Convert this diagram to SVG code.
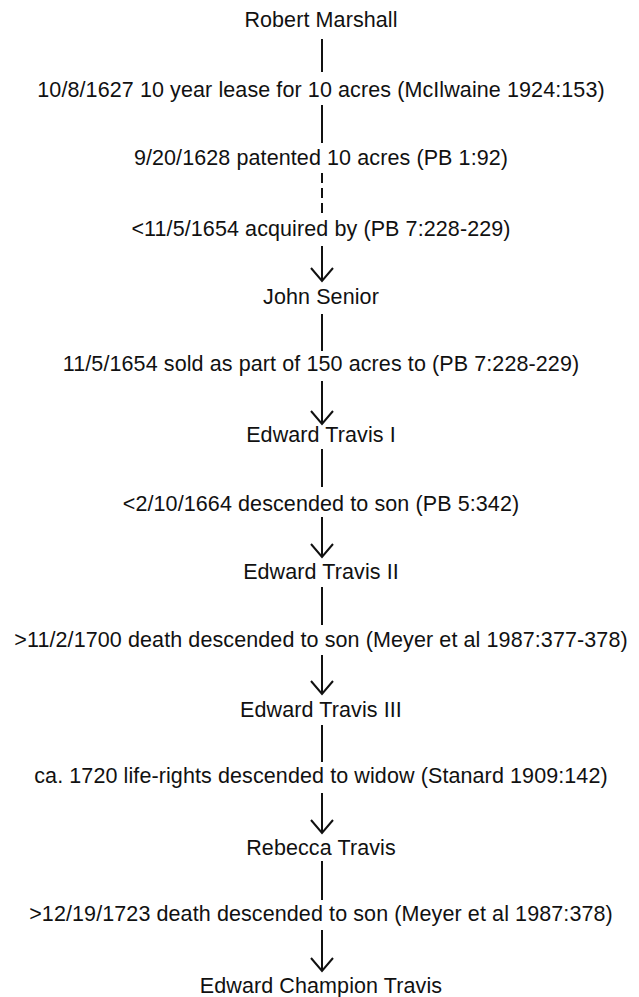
<svg xmlns="http://www.w3.org/2000/svg" width="639" height="997" viewBox="0 0 639 997">
<style>
text{font-family:"Liberation Sans",Arial,sans-serif;font-size:21.5px;letter-spacing:0.1px;fill:#111;text-anchor:middle}
.c{stroke:#111;stroke-width:2;fill:none}
.d{stroke-dasharray:10 5}
.a{stroke:#111;stroke-width:2;fill:none}
</style>
<defs>
<path id="ah" class="a" d="M-11,-13 L0,0 L11,-13"/>
</defs>
<rect width="639" height="997" fill="#fff"/>
<g id="connectors">
<line class="c" x1="322" y1="39" x2="322" y2="72"/>
<line class="c" x1="322" y1="105" x2="322" y2="143"/>
<line class="c d" x1="322" y1="173" x2="322" y2="213"/>
<line class="c" x1="322" y1="246" x2="322" y2="280"/><use href="#ah" x="322" y="281"/>
<line class="c" x1="322" y1="314" x2="322" y2="351"/>
<line class="c" x1="322" y1="381" x2="322" y2="423"/><use href="#ah" x="322" y="424"/>
<line class="c" x1="322" y1="449" x2="322" y2="487"/>
<line class="c" x1="322" y1="517" x2="322" y2="556"/><use href="#ah" x="322" y="557"/>
<line class="c" x1="322" y1="587" x2="322" y2="625"/>
<line class="c" x1="322" y1="655" x2="322" y2="693"/><use href="#ah" x="322" y="694"/>
<line class="c" x1="322" y1="725" x2="322" y2="762"/>
<line class="c" x1="322" y1="793" x2="322" y2="832"/><use href="#ah" x="322" y="833"/>
<line class="c" x1="322" y1="861" x2="322" y2="900"/>
<line class="c" x1="322" y1="930" x2="322" y2="970"/><use href="#ah" x="322" y="971"/>
</g>
<g id="robert-marshall"><text x="321" y="27">Robert Marshall</text></g>
<g id="lease-1627"><text x="321" y="97">10/8/1627 10 year lease for 10 acres (McIlwaine 1924:153)</text></g>
<g id="patent-1628"><text x="321" y="165">9/20/1628 patented 10 acres (PB 1:92)</text></g>
<g id="acquired-1654"><text x="321" y="236">&lt;11/5/1654 acquired by (PB 7:228-229)</text></g>
<g id="john-senior"><text x="321" y="304">John Senior</text></g>
<g id="sold-1654"><text x="321" y="371">11/5/1654 sold as part of 150 acres to (PB 7:228-229)</text></g>
<g id="edward-travis-1"><text x="321" y="442">Edward Travis I</text></g>
<g id="descended-1664"><text x="321" y="511">&lt;2/10/1664 descended to son (PB 5:342)</text></g>
<g id="edward-travis-2"><text x="321" y="579">Edward Travis II</text></g>
<g id="descended-1700"><text x="321" y="647">&gt;11/2/1700 death descended to son (Meyer et al 1987:377-378)</text></g>
<g id="edward-travis-3"><text x="321" y="717">Edward Travis III</text></g>
<g id="descended-1720"><text x="321" y="783">ca. 1720 life-rights descended to widow (Stanard 1909:142)</text></g>
<g id="rebecca-travis"><text x="321" y="855">Rebecca Travis</text></g>
<g id="descended-1723"><text x="321" y="921">&gt;12/19/1723 death descended to son (Meyer et al 1987:378)</text></g>
<g id="edward-champion-travis"><text x="321" y="993">Edward Champion Travis</text></g>
</svg>
